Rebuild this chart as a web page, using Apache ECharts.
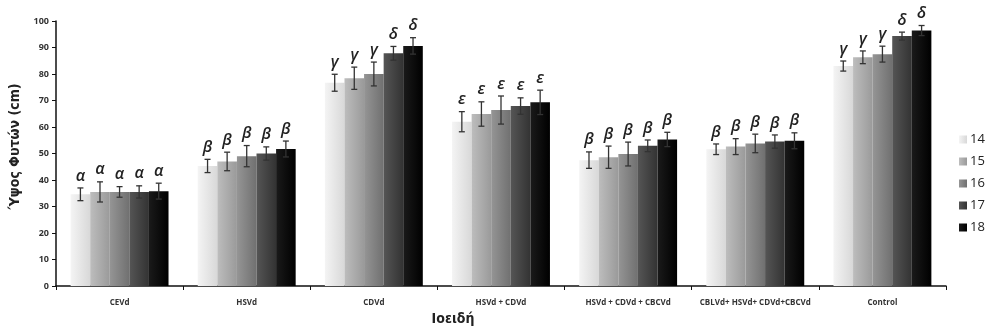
<!DOCTYPE html>
<html>
<head>
<meta charset="utf-8">
<script src="https://cdn.jsdelivr.net/npm/echarts@6/dist/echarts.min.js"></script>
<style>html,body{margin:0;padding:0;background:#fff}#c{width:986px;height:333px}</style>
</head>
<body>
<div id="c"></div>
<script>
const categories = ['CEVd','HSVd','CDVd','HSVd + CDVd','HSVd + CDVd + CBCVd','CBLVd+ HSVd+ CDVd+CBCVd','Control'];
const years = ['14','15','16','17','18'];
const h14 = [34.6, 45.3, 76.7, 62.0, 47.5, 51.6, 83.0];
const h15 = [35.5, 47.0, 78.4, 64.9, 48.6, 52.6, 86.3];
const h16 = [35.5, 49.0, 80.0, 66.4, 49.8, 53.8, 87.5];
const h17 = [35.5, 50.0, 87.8, 67.9, 52.9, 54.5, 94.3];
const h18 = [35.8, 51.7, 90.6, 69.3, 55.3, 54.8, 96.4];
const e14 = [2.4, 2.5, 3.2, 3.8, 3.1, 2.0, 1.9];
const e15 = [3.8, 3.5, 4.2, 4.6, 4.2, 3.0, 2.4];
const e16 = [2.0, 4.0, 4.5, 5.3, 4.5, 3.5, 3.0];
const e17 = [2.3, 2.5, 2.6, 3.1, 2.2, 2.5, 1.5];
const e18 = [3.0, 3.0, 3.1, 4.6, 2.7, 3.0, 1.9];
const l14 = ['α','β','γ','ε','β','β','γ'];
const l15 = ['α','β','γ','ε','β','β','γ'];
const l16 = ['α','β','γ','ε','β','β','γ'];
const l17 = ['α','β','δ','ε','β','β','δ'];
const l18 = ['α','β','δ','ε','β','β','δ'];
const yTicks = [0,10,20,30,40,50,60,70,80,90,100];

const heights = [h14,h15,h16,h17,h18];
const errs = [e14,e15,e16,e17,e18];
const letters = [l14,l15,l16,l17,l18];
const colors = [['#f4f4f4','#d8d8d8'],['#bdbdbd','#9a9a9a'],['#959595','#707070'],['#555555','#333333'],['#1a1a1a','#000000']];
const GAP = 0.23;
const TITLE_FONT = '"DejaVu Sans Condensed", "Open Sans", sans-serif';

const series = [];
years.forEach((y, i) => {
  series.push({
    name: y, type: 'bar', barGap: 0, barCategoryGap: (GAP*100)+'%',
    itemStyle: { color: new echarts.graphic.LinearGradient(0,0,1,0,[{offset:0,color:colors[i][0]},{offset:1,color:colors[i][1]}]) },
    data: heights[i], animation: false
  });
});
years.forEach((y, i) => {
  series.push({
    name: 'err' + y, type: 'custom', z: 10, animation: false,
    data: heights[i].map((v, k) => [k, v, errs[i][k]]),
    renderItem: function (params, api) {
      const ci = api.value(0), v = api.value(1), e = api.value(2);
      const band = api.size([1, 0])[0];
      const bw = band * (1 - GAP) / 5;
      const cx = api.coord([ci, 0])[0] + (i - 2) * bw;
      const yt = api.coord([ci, v + e])[1];
      const yb = api.coord([ci, v - e])[1];
      const cap = 3;
      const st = { stroke: '#333', lineWidth: 1.3 };
      return { type: 'group', children: [
        { type: 'line', shape: { x1: cx, y1: yt, x2: cx, y2: yb }, style: st },
        { type: 'line', shape: { x1: cx - cap, y1: yt, x2: cx + cap, y2: yt }, style: st },
        { type: 'line', shape: { x1: cx - cap, y1: yb, x2: cx + cap, y2: yb }, style: st },
        { type: 'text', x: cx, y: yt - 4, style: { text: letters[i][params.dataIndex], fill: '#222', font: 'italic 600 16px "Open Sans"', textAlign: 'center', textVerticalAlign: 'bottom' } }
      ] };
    }
  });
});

const chart = echarts.init(document.getElementById('c'), null, { renderer: 'canvas' });
chart.setOption({
  backgroundColor: '#fff',
  animation: false,
  grid: { left: 56, right: 40, top: 21, bottom: 47 },
  legend: {
    data: years, orient: 'vertical', left: 954, top: 128, itemWidth: 8, itemHeight: 8, itemGap: 9,
    icon: 'rect', textStyle: { fontSize: 13, color: '#222', fontFamily: 'Open Sans', padding: [0,0,0,-2] }
  },
  xAxis: {
    type: 'category', data: categories,
    axisLine: { lineStyle: { color: '#111', width: 1.5 } },
    axisTick: { show: true, length: 4, lineStyle: { color: '#111' } },
    axisLabel: { fontSize: 8, fontWeight: 'bold', color: '#333', margin: 13, fontFamily: 'Open Sans', interval: 0 },
    name: 'Ιοειδή', nameLocation: 'middle', nameGap: 26,
    nameTextStyle: { fontSize: 14, fontWeight: 'bold', color: '#222', fontFamily: TITLE_FONT, padding: [0, 96, 0, 0] }
  },
  yAxis: {
    type: 'value', min: 0, max: 100, interval: 10,
    axisLine: { show: true, lineStyle: { color: '#111', width: 1.5 } },
    axisTick: { show: true, length: 4, lineStyle: { color: '#111' } },
    splitLine: { show: false },
    axisLabel: { fontSize: 9, fontWeight: 'bold', color: '#333', margin: 7, fontFamily: 'Open Sans',
      customValues: yTicks },
    name: 'Ύψος Φυτών (cm)', nameLocation: 'middle', nameGap: 31,
    nameTextStyle: { fontSize: 14, fontWeight: 'bold', color: '#222', fontFamily: TITLE_FONT, padding: [0, 0, 0, 14] }
  },
  series: series
});
</script>
</body>
</html>
